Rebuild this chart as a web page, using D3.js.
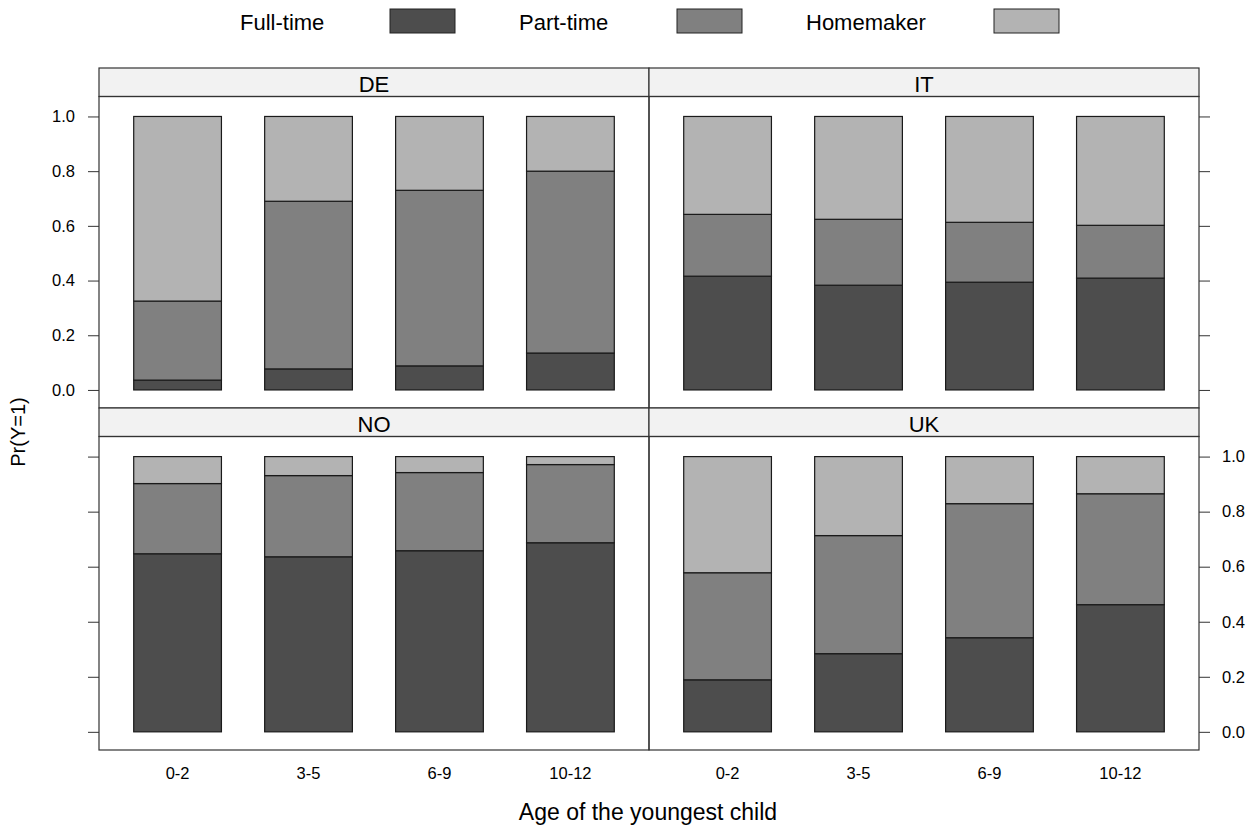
<!DOCTYPE html>
<html>
<head>
<meta charset="utf-8">
<script src="https://cdn.jsdelivr.net/npm/d3@7"></script>
<style>
  body { margin: 0; background: #fff; }
  text { font-family: "Liberation Sans", Arial, sans-serif; fill: #000; }
</style>
</head>
<body>
<svg id="chart" width="1260" height="827"></svg>
<script>
const ages = ['0-2', '3-5', '6-9', '10-12'];
const seriesNames = ['Full-time', 'Part-time', 'Homemaker'];
const seriesColors = ['#4d4d4d', '#808080', '#b3b3b3'];
const yTicks = [0, 0.2, 0.4, 0.6, 0.8, 1.0];

// shares per country, one array per series, in order of ages
const deFull = [0.036, 0.077, 0.088, 0.135];
const dePart = [0.289, 0.613, 0.642, 0.665];
const deHome = [0.675, 0.310, 0.270, 0.200];

const itFull = [0.416, 0.383, 0.394, 0.409];
const itPart = [0.226, 0.241, 0.219, 0.193];
const itHome = [0.358, 0.376, 0.387, 0.398];

const noFull = [0.647, 0.636, 0.658, 0.687];
const noPart = [0.255, 0.295, 0.284, 0.284];
const noHome = [0.098, 0.069, 0.058, 0.029];

const ukFull = [0.189, 0.284, 0.342, 0.462];
const ukPart = [0.389, 0.429, 0.487, 0.403];
const ukHome = [0.422, 0.287, 0.171, 0.135];

const panels = [
    { name: 'DE', col: 0, row: 0, series: [deFull, dePart, deHome] },
    { name: 'IT', col: 1, row: 0, series: [itFull, itPart, itHome] },
    { name: 'NO', col: 0, row: 1, series: [noFull, noPart, noHome] },
    { name: 'UK', col: 1, row: 1, series: [ukFull, ukPart, ukHome] }
];

const svg = d3.select('#chart');

const left = 99, right = 1199, mid = 649;
const rowTop = [68, 408];
const stripH = 28.5;
const panelBottom = [408, 750];
const tickFont = 16.5;

// legend
const legendItems = [
    { label: seriesNames[0], tx: 240, rx: 390 },
    { label: seriesNames[1], tx: 519, rx: 677 },
    { label: seriesNames[2], tx: 806, rx: 994 }
];
const legend = svg.append('g');
legendItems.forEach((d, i) => {
    legend.append('text')
        .attr('x', d.tx).attr('y', 30)
        .attr('font-size', 22)
        .text(d.label);
    legend.append('rect')
        .attr('x', d.rx).attr('y', 9)
        .attr('width', 65).attr('height', 24)
        .attr('fill', seriesColors[i])
        .attr('stroke', '#222').attr('stroke-width', 1);
});

panels.forEach(p => {
    const x0 = p.col === 0 ? left : mid;
    const x1 = p.col === 0 ? mid : right;
    const stripTop = rowTop[p.row];
    const top = stripTop + stripH;
    const bottom = panelBottom[p.row];

    const x = d3.scaleBand()
        .domain(ages)
        .range([x0, x1])
        .paddingInner(0.33)
        .paddingOuter(0.265);

    const y = d3.scaleLinear()
        .domain([-0.066, 1.073])
        .range([bottom, top]);

    const g = svg.append('g');

    // stacked bars
    const rows = ages.map((a, i) => {
        const r = { age: a };
        seriesNames.forEach((s, k) => { r[s] = p.series[k][i]; });
        return r;
    });
    const stacked = d3.stack().keys(seriesNames)(rows);

    stacked.forEach((layer, k) => {
        g.selectAll(null)
            .data(layer)
            .enter()
            .append('rect')
            .attr('x', d => x(d.data.age))
            .attr('width', x.bandwidth())
            .attr('y', d => y(d[1]))
            .attr('height', d => y(d[0]) - y(d[1]))
            .attr('fill', seriesColors[k])
            .attr('stroke', '#1a1a1a')
            .attr('stroke-width', 1.2);
    });

    // strip
    g.append('rect')
        .attr('x', x0).attr('y', stripTop)
        .attr('width', x1 - x0).attr('height', stripH)
        .attr('fill', '#f2f2f2')
        .attr('stroke', '#333').attr('stroke-width', 1.2);
    g.append('text')
        .attr('x', (x0 + x1) / 2).attr('y', stripTop + 23.5)
        .attr('text-anchor', 'middle')
        .attr('font-size', 22)
        .text(p.name);

    // panel border
    g.append('rect')
        .attr('x', x0).attr('y', top)
        .attr('width', x1 - x0).attr('height', bottom - top)
        .attr('fill', 'none')
        .attr('stroke', '#333').attr('stroke-width', 1.2);

    // y axes
    if (p.col === 0) {
        const ax = d3.axisLeft(y).tickValues(yTicks).tickSize(11).tickPadding(13)
            .tickFormat(p.row === 0 ? d3.format('.1f') : () => '');
        const ga = svg.append('g').attr('transform', `translate(${left},0)`).call(ax);
        ga.select('.domain').remove();
        ga.selectAll('line').attr('stroke', '#333');
        ga.selectAll('text').attr('font-size', tickFont).attr('font-family', '"Liberation Sans", Arial, sans-serif');
    } else {
        const ax = d3.axisRight(y).tickValues(yTicks).tickSize(11).tickPadding(12)
            .tickFormat(p.row === 1 ? d3.format('.1f') : () => '');
        const ga = svg.append('g').attr('transform', `translate(${right},0)`).call(ax);
        ga.select('.domain').remove();
        ga.selectAll('line').attr('stroke', '#333');
        ga.selectAll('text').attr('font-size', tickFont).attr('font-family', '"Liberation Sans", Arial, sans-serif');
    }

    // x axis labels
    if (p.row === 1) {
        const ax = d3.axisBottom(x).tickSize(0).tickPadding(17);
        const ga = svg.append('g').attr('transform', `translate(0,${bottom})`).call(ax);
        ga.select('.domain').remove();
        ga.selectAll('text').attr('font-size', tickFont).attr('font-family', '"Liberation Sans", Arial, sans-serif');
    }
});

// axis titles
svg.append('text')
    .attr('transform', 'translate(25,432) rotate(-90)')
    .attr('text-anchor', 'middle')
    .attr('font-size', 20)
    .text('Pr(Y=1)');

svg.append('text')
    .attr('x', 648).attr('y', 820)
    .attr('text-anchor', 'middle')
    .attr('font-size', 23)
    .text('Age of the youngest child');
</script>
</body>
</html>
